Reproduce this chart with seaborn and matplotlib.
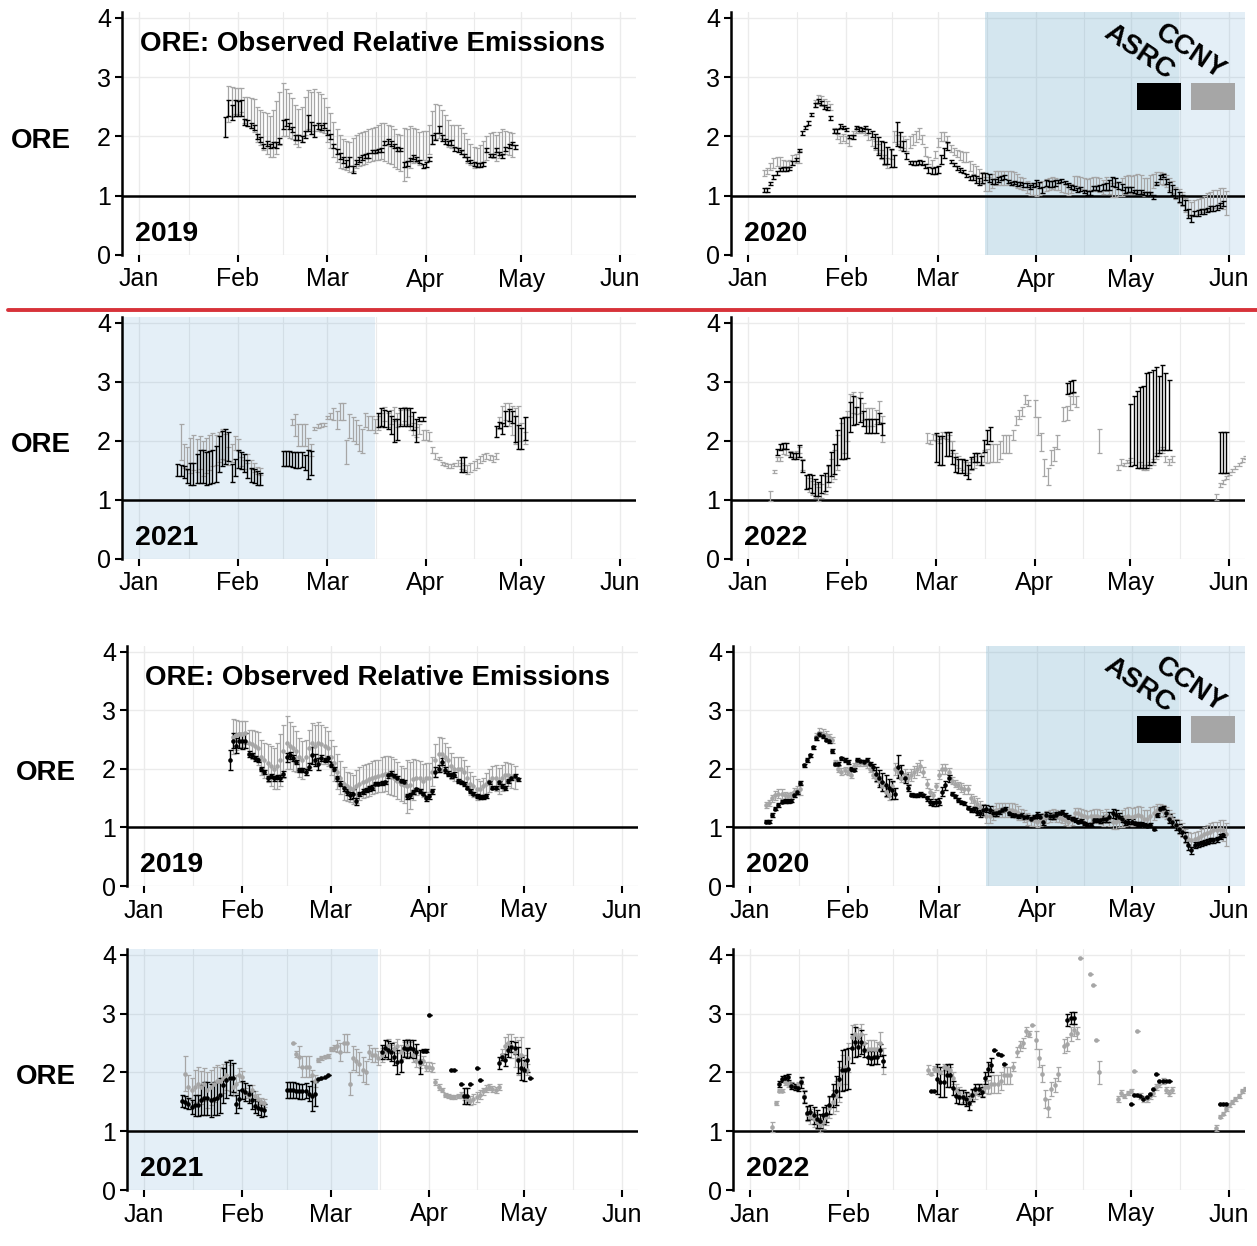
import numpy as np
import pandas as pd
import matplotlib
matplotlib.use('Agg')
import matplotlib.pyplot as plt
import matplotlib.dates as mdates
from matplotlib.lines import Line2D
from matplotlib.patches import Rectangle
from matplotlib.ticker import FixedLocator
import seaborn as sns

nan = np.nan

# ---------------- data: daily ORE ----------------
# 2019
asrc_2019_start = '2019-01-28'
asrc_2019 = [2.16, 2.48, 2.40, 2.48,
             2.47, 2.48, 2.25, 2.23, 2.18, 2.15, 2.00, 1.95, 1.84, 1.88,
             1.84, 1.86, 1.85, 1.92, 2.20, 2.23, 2.18, 2.12, 1.98, 1.98,
             1.95, 2.04, 2.23, 2.15, 2.09, 2.18, 2.15, 2.18,
             2.07, 2.00, 1.84, 1.75, 1.67, 1.61, 1.55, 1.58, 1.45, 1.57,
             1.61, 1.64, 1.67, 1.68, 1.75, 1.75, 1.76, 1.77, 1.89, 1.92,
             1.88, 1.84, 1.79, 1.78, 1.53, 1.55, 1.61, 1.65, 1.62, 1.58, 1.50,
             1.53, 1.62, 1.95, 2.00, 2.12, 1.98, 1.92, 1.89, 1.90, 1.79,
             1.77, 1.74, 1.68, 1.62, 1.58, 1.54, 1.52, 1.52, 1.54, 1.77,
             1.68, 1.68, 1.77, 1.71, 1.67, 1.79, 1.84, 1.88, 1.82]
asrc_2019_err = [0.17, 0.13, 0.13, 0.13,
                 0.13, 0.13, 0.05, 0.05, 0.04, 0.04, 0.04, 0.04, 0.04, 0.04,
                 0.04, 0.04, 0.05, 0.05, 0.08, 0.06, 0.05, 0.04, 0.04, 0.04,
                 0.05, 0.06, 0.14, 0.10, 0.10, 0.05, 0.04, 0.04,
                 0.04, 0.04, 0.04, 0.04, 0.05, 0.05, 0.06, 0.08, 0.06, 0.04,
                 0.04, 0.04, 0.04, 0.04, 0.03, 0.03, 0.03, 0.03, 0.04, 0.04,
                 0.04, 0.04, 0.03, 0.03, 0.04, 0.04, 0.03, 0.03, 0.03, 0.03, 0.04,
                 0.04, 0.04, 0.08, 0.06, 0.06, 0.05, 0.04, 0.04, 0.04, 0.03,
                 0.03, 0.03, 0.03, 0.03, 0.03, 0.03, 0.03, 0.03, 0.03, 0.03,
                 0.03, 0.03, 0.03, 0.03, 0.03, 0.03, 0.03, 0.03, 0.03]
ccny_2019_start = '2019-01-29'
ccny_2019 = [2.55, 2.58, 2.60,
             2.60, 2.62, 2.45, 2.42, 2.40, 2.35, 2.20, 2.15, 2.10, 2.05,
             2.00, 2.05, 2.15, 2.30, 2.45, 2.40, 2.35, 2.30, 2.20, 2.15,
             2.20, 2.35, 2.45, 2.40, 2.45, 2.42, 2.40, 2.35,
             2.20, 2.10, 1.95, 1.85, 1.75, 1.70, 1.68, 1.65, 1.70, 1.75,
             1.78, 1.80, 1.82, 1.85, 1.87, 1.88, 1.90, 1.92, 1.90, 1.88,
             1.85, 1.80, 1.75, 1.72, 1.70, 1.72, 1.82, 1.85, 1.85, 1.80, 1.85,
             1.85, 1.95, 2.15, 2.25, 2.25, 2.20, 2.15, 2.05, 2.00, 2.00,
             2.00, 1.95, 1.85, 1.75, 1.70, 1.65, 1.65, 1.70, 1.75, 1.80,
             1.85, 1.85, 1.80, 1.85, 1.90, 1.90, 1.88, 1.85]
ccny_2019_err = [0.30, 0.25, 0.22,
                 0.22, 0.20, 0.22, 0.25, 0.25, 0.28, 0.30, 0.30, 0.32, 0.35,
                 0.35, 0.40, 0.45, 0.45, 0.45, 0.40, 0.38, 0.35, 0.33, 0.32,
                 0.30, 0.32, 0.33, 0.35, 0.35, 0.33, 0.32, 0.30,
                 0.30, 0.30, 0.30, 0.28, 0.28, 0.25, 0.25, 0.25, 0.28, 0.28,
                 0.28, 0.28, 0.28, 0.28, 0.28, 0.28, 0.30, 0.30, 0.32, 0.32,
                 0.32, 0.32, 0.30, 0.30, 0.45, 0.40, 0.35, 0.30, 0.28, 0.28, 0.25,
                 0.25, 0.25, 0.28, 0.30, 0.28, 0.25, 0.22, 0.22, 0.20, 0.20,
                 0.20, 0.20, 0.20, 0.20, 0.18, 0.18, 0.15, 0.15, 0.18, 0.20,
                 0.20, 0.22, 0.22, 0.22, 0.22, 0.20, 0.20, 0.20]

# 2020
asrc_2020_start = '2020-01-06'
asrc_2020 = [1.10, 1.10, 1.21, 1.32, 1.38, 1.44, 1.45, 1.45, 1.46, 1.55,
             1.61, 1.76, 2.06, 2.15, 2.23, 2.37, 2.53, 2.60, 2.56, 2.50,
             2.47, 2.31, 2.09, 2.09, 2.18, 2.15,
             2.12, 2.00, 1.99, 2.15, 2.13, 2.12, 2.15, 2.09, 2.04, 1.92,
             1.84, 1.78, 1.72, 1.68, 1.64, 1.58, 2.04, 1.95, 1.84, 1.67,
             1.56, 1.55, 1.55, 1.57, 1.55, 1.50, 1.44, 1.41, 1.43,
             1.44, 1.61, 1.72, 1.84, 1.58, 1.53, 1.47, 1.43, 1.41, 1.34,
             1.30, 1.31, 1.27, 1.24, 1.30, 1.32, 1.30, 1.24, 1.24, 1.27,
             1.30, 1.32, 1.24, 1.21, 1.22, 1.20, 1.21, 1.18, 1.18, 1.15, 1.18,
             1.22, 1.18, 1.10, 1.22, 1.20, 1.20, 1.22, 1.24, 1.26, 1.22,
             1.18, 1.15, 1.13, 1.10, 1.11, 1.07, 1.05, 1.05, 1.13, 1.13,
             1.13, 1.15, 1.15, 1.18, 1.24, 1.22, 1.18, 1.15, 1.10, 1.10,
             1.10, 1.07, 1.06, 1.06, 1.04, 1.03, 1.04, 0.98, 1.21, 1.32,
             1.34, 1.24, 1.15, 1.10, 1.04, 0.98, 0.93, 0.84, 0.70, 0.61,
             0.70, 0.71, 0.73, 0.74, 0.76, 0.78, 0.78, 0.80, 0.84, 0.87]
asrc_2020_err = [0.03, 0.03, 0.03, 0.03, 0.03, 0.03, 0.03, 0.03, 0.03, 0.03,
                 0.03, 0.03, 0.03, 0.03, 0.03, 0.03, 0.03, 0.03, 0.03, 0.03,
                 0.03, 0.03, 0.03, 0.03, 0.03, 0.03,
                 0.03, 0.03, 0.03, 0.03, 0.03, 0.03, 0.03, 0.03, 0.05, 0.12,
                 0.15, 0.15, 0.18, 0.15, 0.15, 0.10, 0.20, 0.12, 0.08, 0.05,
                 0.03, 0.03, 0.03, 0.03, 0.03, 0.04, 0.05, 0.05, 0.06,
                 0.06, 0.08, 0.08, 0.06, 0.03, 0.03, 0.03, 0.03, 0.03, 0.03,
                 0.03, 0.04, 0.06, 0.06, 0.08, 0.06, 0.06, 0.05, 0.05, 0.04,
                 0.03, 0.03, 0.03, 0.03, 0.03, 0.03, 0.03, 0.03, 0.03, 0.03, 0.03,
                 0.05, 0.05, 0.05, 0.05, 0.05, 0.05, 0.05, 0.03, 0.03, 0.03,
                 0.03, 0.03, 0.03, 0.03, 0.03, 0.03, 0.03, 0.03, 0.03, 0.03,
                 0.05, 0.05, 0.06, 0.08, 0.08, 0.08, 0.06, 0.05, 0.05, 0.04,
                 0.04, 0.03, 0.03, 0.03, 0.03, 0.03, 0.03, 0.03, 0.03, 0.03,
                 0.03, 0.05, 0.08, 0.08, 0.08, 0.08, 0.08, 0.08, 0.08, 0.06,
                 0.05, 0.05, 0.04, 0.04, 0.04, 0.04, 0.04, 0.04, 0.04, 0.04]
ccny_2020_start = '2020-01-06'
ccny_2020 = [1.38, 1.42, 1.50, 1.55, 1.58, 1.57, 1.55, 1.53, 1.55, 1.60,
             1.63, 1.65, nan, nan, nan, nan, 2.55, 2.62, 2.60, 2.58,
             2.55, 2.50, 2.10, 2.00, 1.95, 1.98,
             1.95, 1.90, 2.05, 2.10, 2.10, 2.10, 2.08, 2.00, 1.90, 1.85,
             1.80, 1.70, 1.60, 1.55, 1.70, 2.00, 1.95, 1.85, 1.90, 1.85,
             1.90, 1.95, 2.00, 2.05, 1.95, 1.75, 1.60, 1.55, 1.70,
             1.90, 2.00, 2.00, 1.95, 1.80, 1.75, 1.72, 1.68, 1.65, 1.65,
             1.50, 1.45, 1.40, 1.35, 1.30, 1.20, 1.20, 1.25, 1.30, 1.30,
             1.30, 1.30, 1.30, 1.30, 1.28, 1.25, 1.22, 1.20, 1.15, 1.12, 1.12,
             1.10, 1.12, 1.15, 1.18, 1.20, 1.22, 1.20, 1.18, 1.15, 1.12,
             1.10, 1.12, 1.25, 1.25, 1.22, 1.20, 1.18, 1.20, 1.20, 1.20,
             1.18, 1.15, 1.20, 1.15, 1.10, 1.10, 1.12, 1.15, 1.18, 1.20,
             1.18, 1.20, 1.22, 1.20, 1.15, 1.15, 1.20, 1.25, 1.30, 1.30,
             1.28, 1.25, 1.20, 1.15, 1.05, 1.00, 0.95, 0.85, 0.80, 0.78,
             0.80, 0.82, 0.85, 0.88, 0.90, 0.92, 0.95, 0.95, 0.98, 0.95, 0.88]
ccny_2020_err = [0.05, 0.05, 0.06, 0.08, 0.08, 0.08, 0.06, 0.06, 0.06, 0.08,
                 0.08, 0.10, 0.05, 0.05, 0.05, 0.05, 0.06, 0.08, 0.08, 0.06,
                 0.05, 0.05, 0.05, 0.05, 0.06, 0.06,
                 0.06, 0.06, 0.05, 0.05, 0.05, 0.05, 0.06, 0.06, 0.06, 0.08,
                 0.08, 0.08, 0.08, 0.08, 0.08, 0.10, 0.08, 0.08, 0.10, 0.10,
                 0.10, 0.10, 0.10, 0.10, 0.08, 0.08, 0.06, 0.06, 0.06,
                 0.08, 0.08, 0.08, 0.06, 0.06, 0.06, 0.06, 0.08, 0.08, 0.08,
                 0.08, 0.08, 0.10, 0.10, 0.10, 0.12, 0.12, 0.12, 0.12, 0.12,
                 0.12, 0.12, 0.12, 0.12, 0.12, 0.12, 0.10, 0.10, 0.10, 0.10, 0.10,
                 0.10, 0.10, 0.10, 0.10, 0.10, 0.10, 0.10, 0.08, 0.08, 0.08,
                 0.08, 0.08, 0.08, 0.08, 0.10, 0.10, 0.10, 0.10, 0.12, 0.12,
                 0.12, 0.12, 0.12, 0.12, 0.12, 0.12, 0.12, 0.15, 0.15, 0.15,
                 0.15, 0.15, 0.15, 0.15, 0.15, 0.15, 0.15, 0.12, 0.10, 0.10,
                 0.10, 0.10, 0.10, 0.10, 0.10, 0.12, 0.12, 0.12, 0.12, 0.12,
                 0.12, 0.12, 0.12, 0.12, 0.15, 0.15, 0.15, 0.15, 0.15, 0.18, 0.20]

# 2021
asrc_2021_start = '2021-01-13'
asrc_2021 = [1.51, 1.50, 1.47, 1.41, 1.44, 1.44, 1.53, 1.56, 1.56, 1.53,
             1.55, 1.56, 1.61, 1.78, 1.87, 1.91, 1.91, 1.46, 1.55,
             1.70, 1.67, 1.63, 1.53, 1.43, 1.40, 1.37, 1.36, nan, nan,
             nan, nan, nan, nan, 1.70, 1.70, 1.70, 1.69, 1.68, 1.68,
             1.69, 1.64, 1.60, 1.63, 1.89, 1.91, 1.92, 1.95,
             nan, nan, nan, nan, nan, nan, nan, nan, nan, nan,
             nan, nan, nan, nan, nan, nan, 2.35, 2.41, 2.38, 2.35,
             2.27, 2.18, 2.19, 2.41, 2.40, 2.41, 2.40, 2.34, 2.18, 2.37, 2.37,
             2.98, nan, nan, nan, nan, nan, nan, 2.04, 2.04, nan,
             1.81, 1.60, 1.60, 1.81, nan, 2.07, 1.87, nan, nan, nan,
             nan, nan, 2.16, 2.27, 2.21, 2.38, 2.44, 2.41, 2.21, 2.07,
             2.04, 2.21, 1.90]
asrc_2021_err = [0.10, 0.10, 0.10, 0.12, 0.18, 0.18, 0.25, 0.28, 0.28, 0.28,
                 0.28, 0.28, 0.30, 0.30, 0.30, 0.30, 0.25, 0.15, 0.15,
                 0.15, 0.15, 0.15, 0.15, 0.12, 0.12, 0.12, 0.10, 0.00, 0.00,
                 0.00, 0.00, 0.00, 0.00, 0.13, 0.13, 0.13, 0.13, 0.13, 0.13,
                 0.13, 0.13, 0.25, 0.20, 0.00, 0.00, 0.00, 0.00,
                 0.00, 0.00, 0.00, 0.00, 0.00, 0.00, 0.00, 0.00, 0.00, 0.00,
                 0.00, 0.00, 0.00, 0.00, 0.00, 0.00, 0.12, 0.15, 0.15, 0.15,
                 0.15, 0.20, 0.18, 0.15, 0.15, 0.15, 0.15, 0.15, 0.20, 0.03, 0.03,
                 0.00, 0.00, 0.00, 0.00, 0.00, 0.00, 0.00, 0.00, 0.00, 0.00,
                 0.00, 0.13, 0.13, 0.00, 0.00, 0.00, 0.00, 0.00, 0.00, 0.00,
                 0.00, 0.00, 0.10, 0.05, 0.10, 0.12, 0.10, 0.10, 0.22, 0.20,
                 0.18, 0.20, 0.00]
ccny_2021_start = '2021-01-14'
ccny_2021 = [1.98, 1.75, 1.70, 1.75, 1.80, 1.75, 1.80, 1.70, 1.75, 1.80,
             1.85, 1.85, 1.90, 1.95, 1.90, 1.75, 1.80, 1.96,
             1.93, 1.65, 1.60, 1.70, 1.60, 1.55, 1.50, 1.48, nan, nan,
             nan, nan, nan, nan, nan, nan, 2.50, 2.32, 2.27, 2.10,
             2.10, 2.10, 1.95, 1.85, 2.21, 2.25, 2.27, 2.28,
             2.40, 2.42, 2.45, 2.35, 2.50, 2.50, 1.81, 2.25, 2.20, 2.15,
             2.05, 2.00, 2.35, 2.30, 2.30, 2.25, 2.30, 2.35, 2.45, 2.35,
             2.40, 2.45, 2.35, 2.40, 2.45, 2.40, 2.30, 2.20, 2.15, 2.20, 2.10,
             2.10, 2.08, 1.84, 1.75, 1.70, 1.62, 1.60, 1.58, 1.58, 1.60,
             1.62, 1.58, 1.55, 1.52, 1.55, 1.58, 1.62, 1.68, 1.72, 1.75,
             1.72, 1.70, 1.75, 2.30, 2.45, 2.50, 2.45, 2.35, 2.25, 2.30,
             2.15, 2.05]
ccny_2021_err = [0.30, 0.20, 0.20, 0.30, 0.30, 0.28, 0.28, 0.30, 0.30, 0.30,
                 0.28, 0.25, 0.25, 0.25, 0.22, 0.15, 0.15, 0.12,
                 0.10, 0.08, 0.08, 0.08, 0.08, 0.08, 0.06, 0.06, 0.00, 0.00,
                 0.00, 0.00, 0.00, 0.00, 0.00, 0.00, 0.00, 0.05, 0.18, 0.18,
                 0.18, 0.18, 0.10, 0.10, 0.03, 0.03, 0.03, 0.03,
                 0.03, 0.05, 0.10, 0.15, 0.15, 0.15, 0.20, 0.20, 0.20, 0.20,
                 0.22, 0.20, 0.12, 0.12, 0.12, 0.12, 0.12, 0.12, 0.12, 0.12,
                 0.12, 0.12, 0.12, 0.12, 0.12, 0.12, 0.12, 0.10, 0.08, 0.08, 0.08,
                 0.08, 0.08, 0.05, 0.05, 0.03, 0.03, 0.03, 0.03, 0.03, 0.03,
                 0.05, 0.05, 0.05, 0.08, 0.08, 0.08, 0.08, 0.06, 0.06, 0.05,
                 0.05, 0.05, 0.05, 0.10, 0.15, 0.15, 0.20, 0.25, 0.30, 0.30,
                 0.15, 0.10]

# 2022
asrc_2022_start = '2022-01-10'
asrc_2022 = [1.81, 1.89, 1.91, 1.92, 1.77, 1.75, 1.74, 1.83, 1.58, 1.31,
             1.32, 1.27, 1.21, 1.18, 1.27, 1.30, 1.45, 1.61, 1.69, 1.89,
             2.04, 2.05,
             2.06, 2.41, 2.52, 2.43, 2.52, 2.38, 2.26, 2.25, 2.26, 2.26,
             2.38, 2.20, nan, nan, nan, nan, nan, nan, nan, nan,
             nan, nan, nan, nan, nan, nan, 1.69, 1.69,
             1.89, 1.84, 1.84, 1.95, 1.95, 1.73, 1.60, 1.58, 1.58, 1.55,
             1.48, 1.62, 1.72, 1.72, 1.67, 1.91, 2.06, 2.12, 2.38, 2.32,
             2.29, 2.15, nan, nan, nan, nan, nan, nan, nan, nan, nan,
             nan, nan, nan, nan, nan, nan, nan, nan, nan, nan,
             2.89, 2.92, 2.93, nan, nan, nan, nan, nan, nan, nan,
             nan, nan, nan, nan, nan, nan, nan, nan, nan, nan,
             1.47, 1.62, 1.61, 1.60, 1.55, 1.58, 1.64, 1.72, 1.98, 1.86,
             1.86, 1.85, 1.86, nan, nan, nan, nan, nan, nan, nan,
             nan, nan, nan, nan, nan, nan, nan, nan, 1.47, 1.47, 1.47]
asrc_2022_err = [0.05, 0.05, 0.05, 0.05, 0.05, 0.05, 0.05, 0.10, 0.10, 0.12,
                 0.12, 0.15, 0.15, 0.12, 0.15, 0.15, 0.15, 0.20, 0.25, 0.30,
                 0.35, 0.35,
                 0.35, 0.25, 0.25, 0.15, 0.20, 0.12, 0.12, 0.12, 0.12, 0.12,
                 0.10, 0.10, 0.00, 0.00, 0.00, 0.00, 0.00, 0.00, 0.00, 0.00,
                 0.00, 0.00, 0.00, 0.00, 0.00, 0.00, 0.00, 0.00,
                 0.25, 0.25, 0.25, 0.20, 0.20, 0.12, 0.12, 0.12, 0.12, 0.12,
                 0.12, 0.10, 0.08, 0.08, 0.08, 0.10, 0.12, 0.12, 0.00, 0.00,
                 0.00, 0.00, 0.00, 0.00, 0.00, 0.00, 0.00, 0.00, 0.00, 0.00, 0.00,
                 0.00, 0.00, 0.00, 0.00, 0.00, 0.00, 0.00, 0.00, 0.00, 0.00,
                 0.10, 0.10, 0.10, 0.00, 0.00, 0.00, 0.00, 0.00, 0.00, 0.00,
                 0.00, 0.00, 0.00, 0.00, 0.00, 0.00, 0.00, 0.00, 0.00, 0.00,
                 0.00, 0.00, 0.00, 0.00, 0.00, 0.00, 0.00, 0.00, 0.00, 0.00,
                 0.00, 0.00, 0.00, 0.00, 0.00, 0.00, 0.00, 0.00, 0.00, 0.00,
                 0.00, 0.00, 0.00, 0.00, 0.00, 0.00, 0.00, 0.00, 0.00, 0.00, 0.00]
# wide ASRC bars shown only in the upper (error-bar) version of 2022
asrc_2022_top_start = '2022-05-01'
asrc_2022_top = [2.10, 2.18, 2.20, 2.23, 2.24, 2.35, 2.38, 2.43, 2.50, 2.45,
                 2.57, 2.50, 2.44, nan, nan, nan, nan, nan, nan, nan,
                 nan, nan, nan, nan, nan, nan, nan, nan, 1.80, 1.80, 1.80]
asrc_2022_top_err = [0.52, 0.58, 0.65, 0.68, 0.69, 0.80, 0.78, 0.78, 0.75, 0.65,
                     0.72, 0.65, 0.59, 0.00, 0.00, 0.00, 0.00, 0.00, 0.00, 0.00,
                     0.00, 0.00, 0.00, 0.00, 0.00, 0.00, 0.00, 0.00, 0.35, 0.35, 0.35]
ccny_2022_start = '2022-01-08'
ccny_2022 = [1.07, 1.48, 1.69, 1.69, 1.83, 1.81, 1.78, 1.75, 1.78, 1.85,
             1.60, 1.30, 1.25, 1.20, 1.15, 1.10, 1.15, 1.25, 1.40, 1.50,
             1.60, 1.80, 2.00, 2.10,
             2.25, 2.60, 2.65, 2.60, 2.65, 2.50, 2.40, 2.40, 2.40, 2.40,
             2.50, 2.20, nan, nan, nan, nan, nan, nan, nan, nan,
             nan, nan, nan, nan, nan, 2.05, 1.98, 2.06,
             2.05, 2.00, 2.10, 2.08, 2.05, 1.90, 1.70, 1.65, 1.60, 1.55,
             1.55, 1.60, 1.65, 1.70, 1.70, 1.75, 1.75, 1.80, 1.80, 1.80,
             1.85, 1.95, 1.95, 1.95, 2.10, 2.35, 2.45, 2.50, 2.70, 2.65, 2.80,
             2.55, 2.25, 1.98, 1.55, 1.40, 1.72, 1.78, 1.98, nan, 2.45,
             2.48, 2.65, 2.72, 2.67, 3.94, nan, nan, 3.68, 3.48, 2.55,
             2.00, nan, nan, nan, nan, nan, 1.55, 1.65, 1.60, 1.65,
             1.68, 2.02, 2.70, 1.60, 1.55, 1.55, 1.60, 1.65, 1.75, 1.80,
             1.85, 1.70, 1.65, 1.70, nan, nan, nan, nan, nan, nan,
             nan, nan, nan, nan, nan, nan, nan, 1.05, 1.25, 1.30, 1.38,
             1.45, 1.50, 1.55, 1.60, 1.68, 1.72, 1.78]
ccny_2022_err = [0.08, 0.03, 0.03, 0.03, 0.05, 0.05, 0.05, 0.05, 0.05, 0.05,
                 0.10, 0.12, 0.12, 0.12, 0.12, 0.12, 0.12, 0.15, 0.18, 0.20,
                 0.25, 0.30, 0.30, 0.30,
                 0.25, 0.20, 0.18, 0.15, 0.18, 0.15, 0.15, 0.15, 0.15, 0.12,
                 0.18, 0.22, 0.00, 0.00, 0.00, 0.00, 0.00, 0.00, 0.00, 0.00,
                 0.00, 0.00, 0.00, 0.00, 0.00, 0.08, 0.03, 0.05,
                 0.05, 0.03, 0.05, 0.05, 0.05, 0.10, 0.10, 0.10, 0.10, 0.10,
                 0.10, 0.10, 0.10, 0.10, 0.10, 0.10, 0.12, 0.15, 0.15, 0.15,
                 0.15, 0.15, 0.15, 0.15, 0.08, 0.08, 0.08, 0.08, 0.08, 0.05, 0.00,
                 0.15, 0.15, 0.15, 0.15, 0.15, 0.12, 0.12, 0.12, 0.00, 0.12,
                 0.12, 0.12, 0.10, 0.10, 0.00, 0.00, 0.00, 0.00, 0.00, 0.00,
                 0.20, 0.00, 0.00, 0.00, 0.00, 0.00, 0.05, 0.05, 0.03, 0.03,
                 0.03, 0.00, 0.00, 0.05, 0.05, 0.05, 0.05, 0.05, 0.05, 0.05,
                 0.05, 0.05, 0.05, 0.05, 0.00, 0.00, 0.00, 0.00, 0.00, 0.00,
                 0.00, 0.00, 0.00, 0.00, 0.00, 0.00, 0.00, 0.05, 0.03, 0.03, 0.03,
                 0.03, 0.03, 0.03, 0.03, 0.03, 0.03, 0.03]

years = [2019, 2020, 2021, 2022]
stations = ['ASRC', 'CCNY']
BLACK = '#000000'
GRAY = '#a6a6a6'


def series(start, vals, err):
    return pd.DataFrame({'date': pd.date_range(start, periods=len(vals), freq='D'),
                         'ore': vals, 'err': err})


data = {
    2019: (series(asrc_2019_start, asrc_2019, asrc_2019_err),
           series(ccny_2019_start, ccny_2019, ccny_2019_err)),
    2020: (series(asrc_2020_start, asrc_2020, asrc_2020_err),
           series(ccny_2020_start, ccny_2020, ccny_2020_err)),
    2021: (series(asrc_2021_start, asrc_2021, asrc_2021_err),
           series(ccny_2021_start, ccny_2021, ccny_2021_err)),
    2022: (series(asrc_2022_start, asrc_2022, asrc_2022_err),
           series(ccny_2022_start, ccny_2022, ccny_2022_err)),
}
extra_top = {2022: series(asrc_2022_top_start, asrc_2022_top, asrc_2022_top_err)}

sns.set_theme(style='white')
plt.rcParams['font.family'] = ['Liberation Sans Narrow', 'Liberation Sans', 'DejaVu Sans']
plt.rcParams['text.color'] = 'black'
plt.rcParams['axes.labelcolor'] = 'black'
BOLD = ['Liberation Sans', 'DejaVu Sans']

W, H = 1257, 1246
fig = plt.figure(figsize=(W / 100, H / 100), dpi=100)


def px_axes(l, t, r, b):
    return fig.add_axes([l / W, 1 - b / H, (r - l) / W, (b - t) / H])


def draw_panel(ax, year, points, ylabel=False, title=False, legend=False):
    x0 = pd.Timestamp(f'{year}-01-01') - pd.Timedelta(days=5.4)
    x1 = pd.Timestamp(f'{year}-06-01') + pd.Timedelta(days=5)
    if year == 2020:
        ax.axvspan(pd.Timestamp('2020-03-16'), pd.Timestamp('2020-05-16'),
                   color='#73adcc', alpha=0.30, lw=0, zorder=1)
        ax.axvspan(pd.Timestamp('2020-05-16'), x1,
                   color='#5aa0d0', alpha=0.16, lw=0, zorder=1)
    if year == 2021:
        ax.axvspan(x0, pd.Timestamp('2021-03-16'),
                   color='#5aa0d0', alpha=0.16, lw=0, zorder=1)
    ax.axhline(1, color='black', lw=1.8, zorder=2)

    asrc, ccny = data[year]
    for df, col, lw in [(ccny, GRAY, 0.9), (asrc, BLACK, 1.0)]:
        bars = df if points else df[df['err'] > 0]
        ax.errorbar(bars['date'], bars['ore'], yerr=bars['err'], fmt='none', ecolor=col,
                    elinewidth=lw, capsize=1.8, capthick=lw, zorder=3)
        if points:
            sns.scatterplot(data=df, x='date', y='ore', color=col, s=11,
                            linewidth=0, ax=ax, zorder=4)
    if not points and year in extra_top:
        df = extra_top[year]
        df = df[df['err'] > 0]
        ax.errorbar(df['date'], df['ore'], yerr=df['err'], fmt='none', ecolor=BLACK,
                    elinewidth=1.0, capsize=1.8, capthick=1.0, zorder=3)

    ax.set_xlim(x0, x1)
    ax.set_ylim(0, 4.1)
    ax.set_yticks([0, 1, 2, 3, 4])
    ax.xaxis.set_major_locator(mdates.MonthLocator())
    ax.xaxis.set_major_formatter(mdates.DateFormatter('%b'))
    starts = mdates.date2num(pd.date_range(f'{year}-01-01', periods=6, freq='MS'))
    ax.xaxis.set_minor_locator(FixedLocator((starts[:-1] + starts[1:]) / 2))
    ax.grid(True, which='major', color='#ebebeb', lw=1.0)
    ax.grid(True, which='minor', axis='x', color='#ebebeb', lw=0.8)
    ax.set_axisbelow(True)
    for s in ['top', 'right', 'bottom']:
        ax.spines[s].set_visible(False)
    ax.spines['left'].set_color('black')
    ax.spines['left'].set_linewidth(1.8)
    ax.tick_params(which='major', direction='out', length=5, width=1.5,
                   color='black', labelsize=18, labelcolor='black',
                   bottom=True, left=True)
    ax.tick_params(axis='x', which='major', pad=4)
    ax.tick_params(axis='y', which='major', pad=3)
    ax.tick_params(which='minor', length=0)
    ax.set_xlabel('')
    if ylabel:
        ax.set_ylabel('ORE', rotation=0, fontsize=20, fontweight='bold',
                      family=BOLD, color='black', va='center', ha='center')
        ax.yaxis.set_label_coords(-0.158, 0.47)
    else:
        ax.set_ylabel('')

    ax.text(0.025, 0.086, str(year), transform=ax.transAxes, fontsize=20.5,
            fontweight='bold', family=BOLD, color='black', ha='left', va='center',
            zorder=6)
    if title:
        ax.text(0.035, 0.868, 'ORE: Observed Relative Emissions', transform=ax.transAxes,
                fontsize=20, fontweight='bold', family=BOLD, color='black',
                ha='left', va='center', zorder=6)
    if legend:
        for (xr, lab, col, xt, yt) in [(0.79, stations[0], BLACK, 0.842, 0.700),
                                       (0.895, stations[1], GRAY, 0.943, 0.700)]:
            ax.add_patch(Rectangle((xr, 0.597), 0.085, 0.111, transform=ax.transAxes,
                                   facecolor=col, edgecolor='none', zorder=6))
            ax.text(xt, yt, lab, transform=ax.transAxes, rotation=-34,
                    rotation_mode='anchor', ha='right', va='bottom', fontsize=20,
                    fontweight='bold', family=BOLD, color='black', zorder=6)


# upper block: error bars only
boxes_top = {2019: (122, 12, 636, 255), 2020: (731, 12, 1245, 255),
             2021: (122, 317, 636, 559), 2022: (731, 317, 1245, 559)}
# lower block: points with error bars
boxes_bot = {2019: (127, 646, 638, 886), 2020: (733, 646, 1245, 886),
             2021: (127, 949, 638, 1190), 2022: (733, 949, 1245, 1190)}

for yr in years:
    ax = px_axes(*boxes_top[yr])
    draw_panel(ax, yr, points=False, ylabel=yr in (2019, 2021),
               title=yr == 2019, legend=yr == 2020)
    ax = px_axes(*boxes_bot[yr])
    draw_panel(ax, yr, points=True, ylabel=yr in (2019, 2021),
               title=yr == 2019, legend=yr == 2020)

fig.add_artist(Line2D([8 / W, 1.0], [1 - 310 / H, 1 - 310 / H], color='#d7323a', lw=2.8))

fig.savefig('out.png', dpi=100)
